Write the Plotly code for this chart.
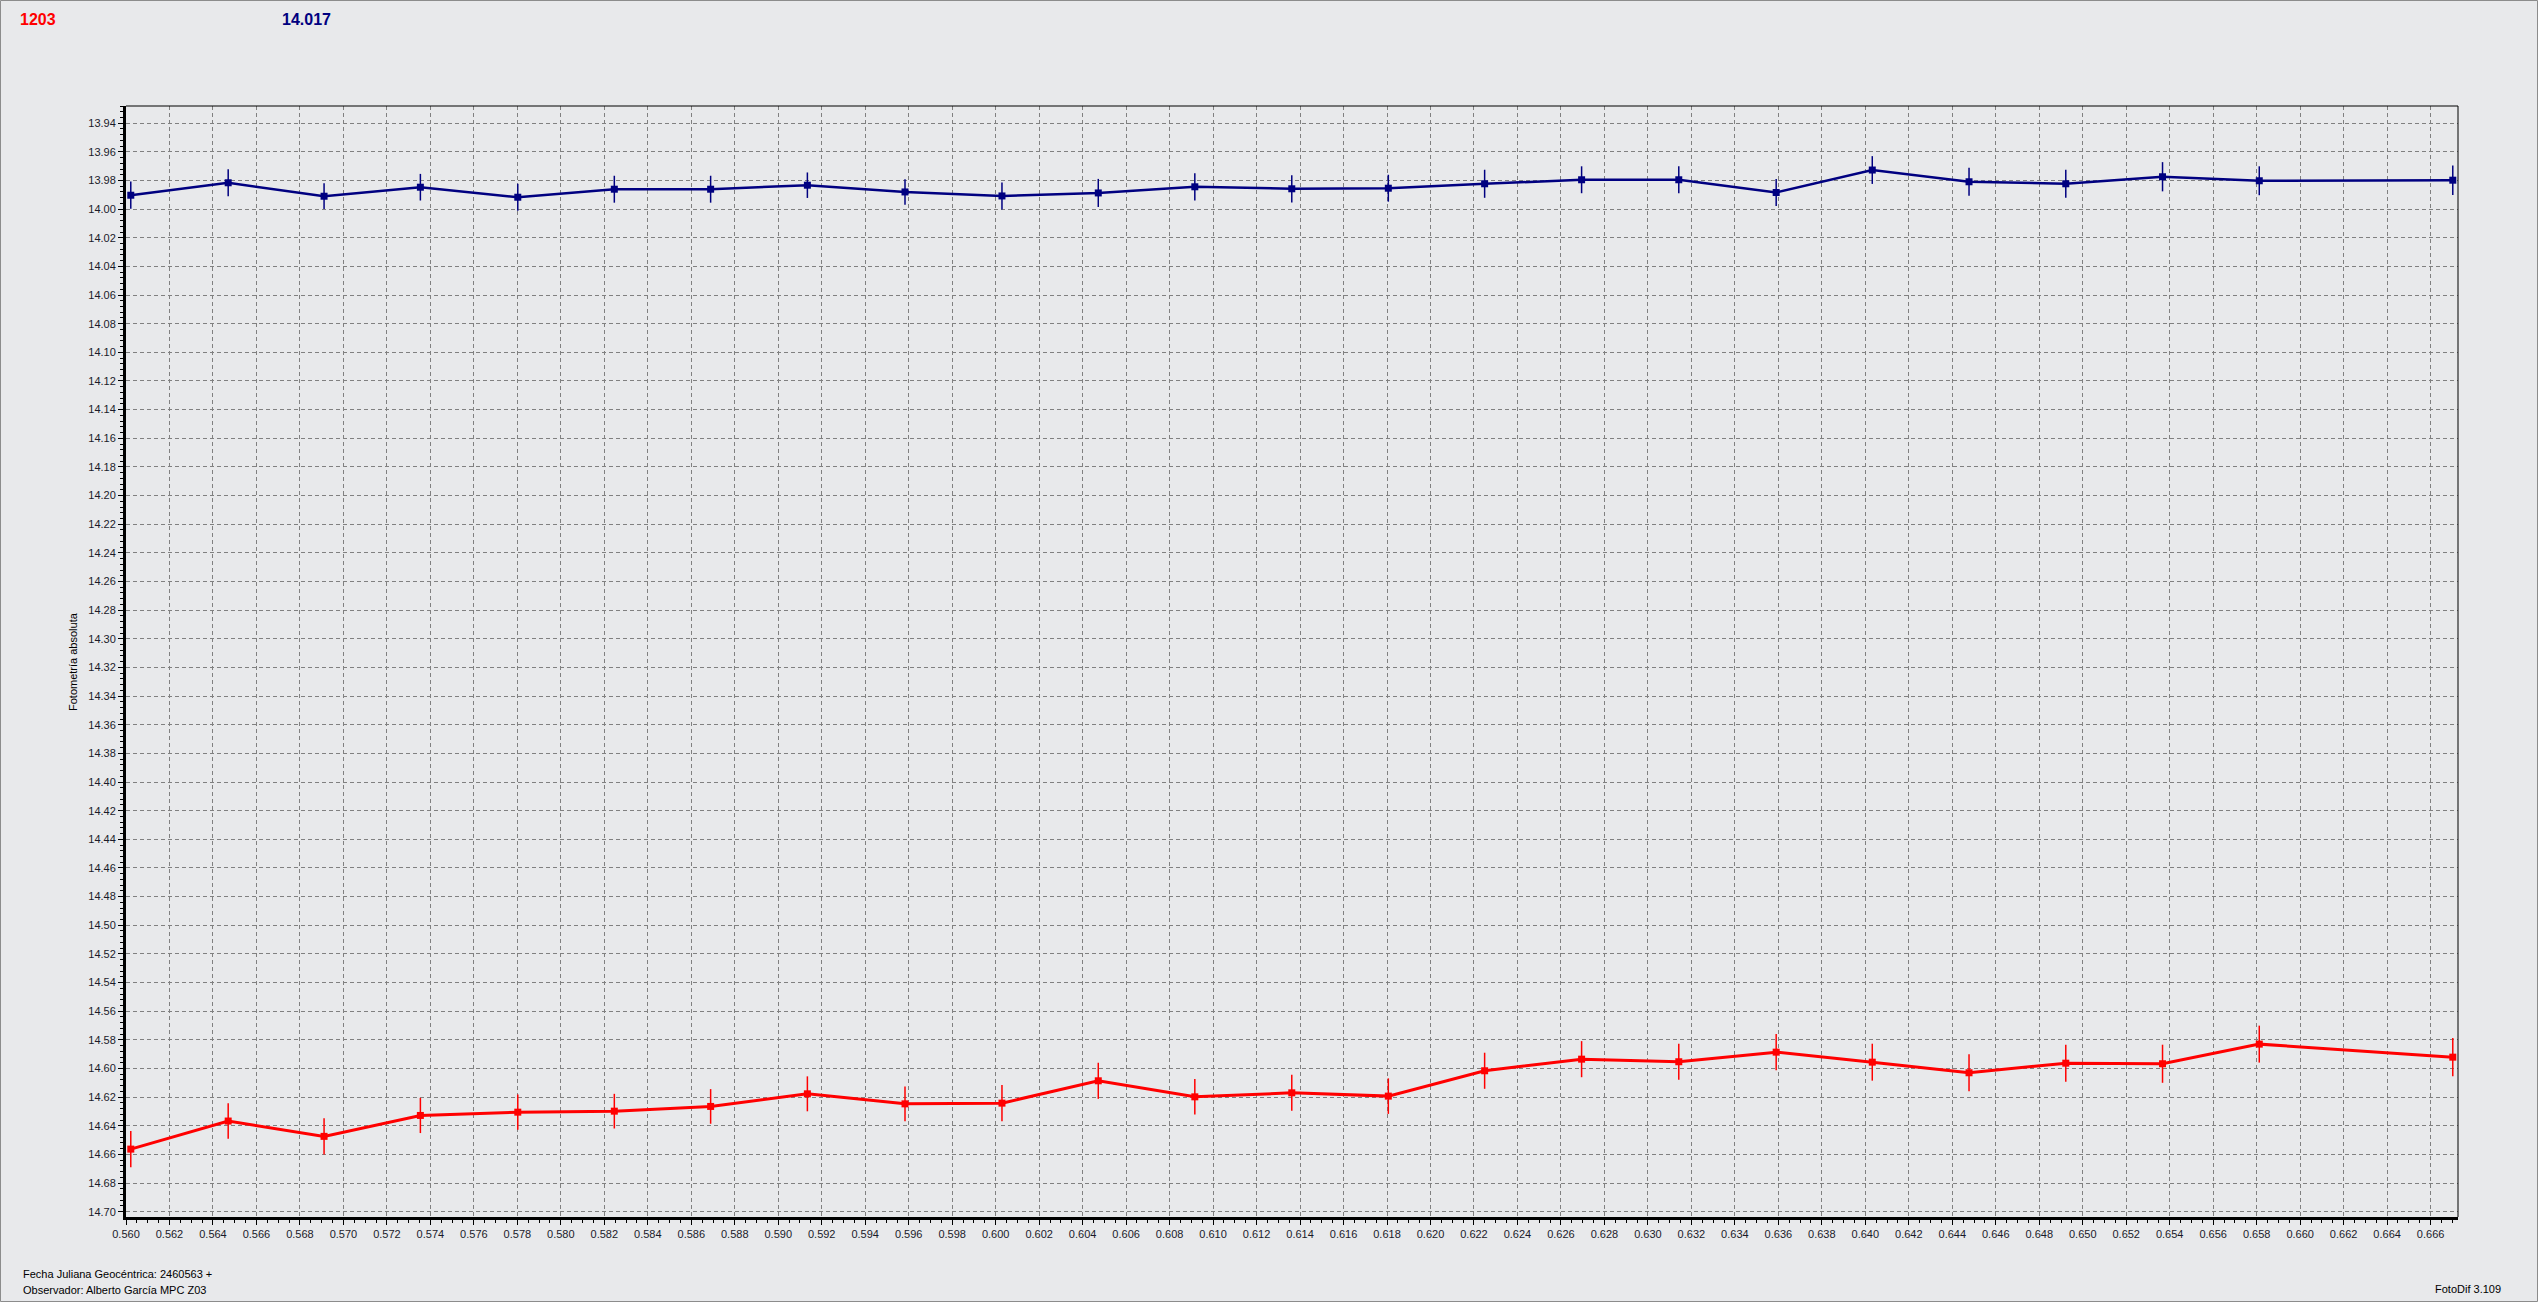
import plotly.graph_objects as go

# ---- data ----
jd = [0.56022, 0.56470, 0.56911, 0.57354, 0.57802, 0.58246, 0.58689, 0.59134,
      0.59583, 0.60029, 0.60472, 0.60916, 0.61362, 0.61806, 0.62249, 0.62695,
      0.63142, 0.63590, 0.64032, 0.64477, 0.64922, 0.65367, 0.65812, 0.66702]

comp_mag = [13.9903, 13.9816, 13.9910, 13.9847, 13.9917, 13.9861, 13.9861, 13.9833,
            13.9880, 13.9908, 13.9887, 13.9844, 13.9858, 13.9854, 13.9823, 13.9795,
            13.9795, 13.9884, 13.9727, 13.9809, 13.9823, 13.9774, 13.9802, 13.9798]
comp_err = [0.0095, 0.0094, 0.0090, 0.0093, 0.0094, 0.0094, 0.0094, 0.0089,
            0.0089, 0.0094, 0.0098, 0.0095, 0.0095, 0.0094, 0.0098, 0.0094,
            0.0094, 0.0094, 0.0097, 0.0097, 0.0098, 0.0102, 0.0101, 0.0103]

ast_mag = [14.6563, 14.6367, 14.6474, 14.6328, 14.6305, 14.6298, 14.6265, 14.6177,
           14.6247, 14.6242, 14.6086, 14.6198, 14.6170, 14.6193, 14.6016, 14.5935,
           14.5953, 14.5886, 14.5956, 14.6030, 14.5963, 14.5967, 14.5830, 14.5921]
ast_err = [0.0127, 0.0124, 0.0126, 0.0123, 0.0123, 0.0121, 0.0121, 0.0122,
           0.0122, 0.0126, 0.0126, 0.0124, 0.0126, 0.0124, 0.0126, 0.0126,
           0.0126, 0.0126, 0.0129, 0.0129, 0.0129, 0.0133, 0.0129, 0.0133]

title_left = "1203"
title_right = "14.017"
y_title = "Fotometría absoluta"
foot1 = "Fecha Juliana Geocéntrica: 2460563 +"
foot2 = "Observador: Alberto García MPC Z03"
foot3 = "FotoDif 3.109"

# ---- layout geometry ----
W, H = 2538, 1302
L, R, T, B = 126, 80, 106, 85
PW, PH = W - L - R, H - T - B

def px2paper_x(px):
    return (px - L) / PW

def px2paper_y(py):
    return 1 - (py - T) / PH

BG = "rgb(232,233,235)"
NAVY = "rgb(0,0,128)"
RED = "rgb(255,0,0)"
FONT = "Liberation Sans, Arial, sans-serif"

fig = go.Figure()

fig.add_trace(go.Scatter(
    x=jd, y=comp_mag, mode="lines+markers",
    line=dict(color=NAVY, width=2.5),
    marker=dict(symbol="square", size=7, color=NAVY),
    error_y=dict(type="data", array=comp_err, visible=True,
                 color=NAVY, thickness=1.5, width=0),
    showlegend=False))

fig.add_trace(go.Scatter(
    x=jd, y=ast_mag, mode="lines+markers",
    line=dict(color=RED, width=3),
    marker=dict(symbol="square", size=7, color=RED),
    error_y=dict(type="data", array=ast_err, visible=True,
                 color=RED, thickness=1.5, width=0),
    showlegend=False))

axis_common = dict(
    showgrid=True, gridcolor="rgb(128,128,128)", gridwidth=1, griddash="4px,3px",
    zeroline=False, showline=True, linecolor="black", linewidth=3,
    ticks="outside", ticklen=5, tickwidth=1, tickcolor="black",
    tickfont=dict(family=FONT, size=11, color="#1a1a2a"),
)

fig.update_layout(
    width=W, height=H,
    paper_bgcolor=BG, plot_bgcolor=BG,
    margin=dict(l=L, r=R, t=T, b=B, autoexpand=False),
    xaxis=dict(**axis_common, range=[0.560, 0.66726], tick0=0.560, dtick=0.002,
               tickformat=".3f",
               minor=dict(dtick=0.0005, tick0=0.560, ticks="outside", ticklen=3,
                          tickcolor="black", showgrid=False)),
    yaxis=dict(**axis_common, range=[14.7037, 13.928], tick0=13.94, dtick=0.02,
               tickformat=".2f",
               minor=dict(dtick=0.004, tick0=13.94, ticks="outside", ticklen=3,
                          tickcolor="black", showgrid=False)),
    hovermode=False,
)

shapes = []
# thin top and right plot frame
shapes.append(dict(type="line", xref="paper", yref="paper", x0=0, x1=1, y0=1, y1=1,
                   line=dict(color="black", width=1)))
shapes.append(dict(type="line", xref="paper", yref="paper", x0=1, x1=1, y0=0, y1=1,
                   line=dict(color="black", width=1)))
# outer window border
shapes.append(dict(type="rect", xref="paper", yref="paper",
                   x0=px2paper_x(0.5), x1=px2paper_x(W - 0.5),
                   y0=px2paper_y(H - 0.5), y1=px2paper_y(0.5),
                   line=dict(color="rgb(140,140,140)", width=1), layer="below"))
fig.update_layout(shapes=shapes)

ann = []
ann.append(dict(text=f"<b>{title_left}</b>", x=px2paper_x(18), y=px2paper_y(19),
                xref="paper", yref="paper", xanchor="left", yanchor="middle",
                showarrow=False, font=dict(family=FONT, size=16, color=RED)))
ann.append(dict(text=f"<b>{title_right}</b>", x=px2paper_x(280), y=px2paper_y(19),
                xref="paper", yref="paper", xanchor="left", yanchor="middle",
                showarrow=False, font=dict(family=FONT, size=16, color=NAVY)))
ann.append(dict(text=y_title, x=px2paper_x(73), y=px2paper_y(662),
                xref="paper", yref="paper", xanchor="center", yanchor="middle",
                textangle=-90, showarrow=False,
                font=dict(family=FONT, size=11, color="black")))
ann.append(dict(text=foot1, x=px2paper_x(21), y=px2paper_y(1274),
                xref="paper", yref="paper", xanchor="left", yanchor="middle",
                showarrow=False, font=dict(family=FONT, size=11, color="black")))
ann.append(dict(text=foot2, x=px2paper_x(21), y=px2paper_y(1290),
                xref="paper", yref="paper", xanchor="left", yanchor="middle",
                showarrow=False, font=dict(family=FONT, size=11, color="black")))
ann.append(dict(text=foot3, x=px2paper_x(2503), y=px2paper_y(1289),
                xref="paper", yref="paper", xanchor="right", yanchor="middle",
                showarrow=False, font=dict(family=FONT, size=11, color="black")))
fig.update_layout(annotations=ann)

fig.write_html("out.html",
               config={"displayModeBar": False, "staticPlot": True},
               post_script="document.body.style.margin='0';"
                           "document.body.style.overflow='hidden';"
                           "document.body.style.background='" + BG + "';")
